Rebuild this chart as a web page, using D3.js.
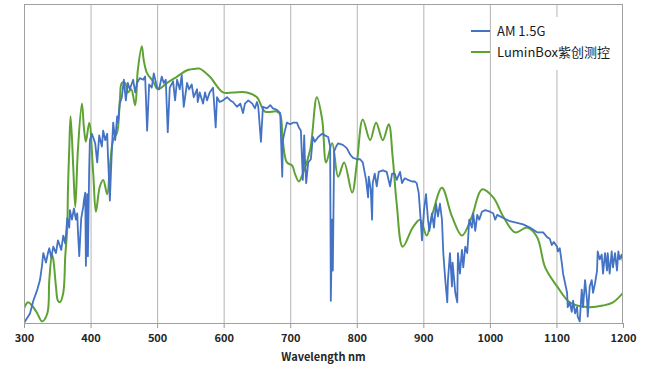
<!DOCTYPE html>
<html>
<head>
<meta charset="utf-8">
<script src="https://cdn.jsdelivr.net/npm/d3@7"></script>
<style>
  body { margin: 0; background: #fff; }
  svg text { font-family: "Noto Sans CJK SC", "Noto Sans", sans-serif; }
</style>
</head>
<body>
<svg width="649" height="375"></svg>
<script>
// wavelength (nm) and spectral irradiance
var am15Wave = [300,309,314,320,324,327,329,333,336,338,341,344,348,351,356,359,362,365,368,369,372,375,378,380,381,383,386,389,390,392,393,395,396,398,399,402,407,410,413,417,419,422,425,426,429,432,434,437,440,441,444,447,450,453,456,459,464,467,470,474,479,482,485,488,492,495,500,503,507,510,513,516,519,524,527,530,534,537,540,545,548,552,555,560,561,564,569,572,575,579,584,585,588,590,594,599,605,610,614,620,625,629,632,637,643,647,650,652,656,659,665,670,674,680,685,688,689,692,695,700,704,710,713,716,719,721,722,724,727,731,734,737,742,748,752,757,760,761,763,764,766,769,772,779,785,790,794,800,805,809,814,817,818,821,823,824,827,830,833,839,845,850,853,857,860,865,868,872,877,883,887,890,893,896,898,901,904,907,909,913,916,919,922,925,928,930,933,936,937,940,943,944,948,951,952,955,958,960,963,966,969,973,975,978,981,984,988,993,1000,1005,1008,1011,1020,1030,1041,1050,1060,1071,1080,1086,1090,1093,1096,1101,1102,1105,1108,1110,1113,1116,1117,1120,1123,1125,1128,1131,1132,1135,1138,1140,1143,1146,1147,1150,1153,1155,1158,1161,1162,1165,1168,1170,1173,1176,1177,1180,1183,1185,1188,1191,1193,1195,1198,1200];
var am15Value = [0.00,0.06,0.14,0.21,0.27,0.36,0.44,0.38,0.44,0.47,0.41,0.48,0.44,0.52,0.46,0.55,0.50,0.66,0.60,0.71,0.65,0.72,0.65,0.69,0.58,0.42,0.66,0.73,0.77,0.82,0.36,0.81,0.42,0.98,1.15,1.19,1.13,1.01,1.18,1.11,1.21,1.15,1.19,1.07,0.77,1.09,1.26,1.15,1.30,1.26,1.38,1.42,1.53,1.40,1.51,1.47,1.53,1.45,1.51,1.54,1.53,1.55,1.21,1.50,1.48,1.57,1.48,1.47,1.55,1.51,1.53,1.20,1.48,1.52,1.40,1.53,1.47,1.56,1.36,1.51,1.47,1.50,1.42,1.47,1.39,1.45,1.38,1.45,1.40,1.45,1.48,1.42,1.23,1.42,1.39,1.40,1.42,1.40,1.39,1.36,1.38,1.32,1.38,1.40,1.38,1.35,1.39,1.36,1.14,1.36,1.35,1.37,1.35,1.34,1.32,0.92,1.15,1.21,1.26,1.25,1.26,1.26,1.23,1.21,0.90,1.18,1.04,0.88,1.01,1.03,1.17,1.14,1.17,1.19,1.18,1.17,1.11,0.14,0.65,0.33,1.08,1.11,1.13,1.12,1.10,1.06,1.04,1.03,1.03,1.01,0.90,0.79,0.92,0.84,0.65,0.88,0.94,0.86,0.95,0.96,0.95,0.86,0.94,0.94,0.90,0.95,0.88,0.91,0.90,0.89,0.89,0.88,0.82,0.65,0.52,0.71,0.81,0.65,0.58,0.69,0.60,0.75,0.67,0.75,0.65,0.44,0.27,0.13,0.27,0.44,0.23,0.38,0.19,0.13,0.44,0.31,0.46,0.35,0.48,0.44,0.65,0.60,0.69,0.58,0.68,0.65,0.70,0.71,0.70,0.69,0.65,0.68,0.66,0.64,0.63,0.62,0.60,0.57,0.57,0.54,0.53,0.49,0.51,0.48,0.45,0.47,0.38,0.31,0.25,0.19,0.10,0.13,0.07,0.14,0.06,0.10,0.04,0.01,0.21,0.10,0.27,0.14,0.04,0.23,0.27,0.19,0.25,0.33,0.45,0.40,0.43,0.31,0.44,0.33,0.44,0.31,0.45,0.35,0.44,0.33,0.45,0.40,0.43,0.38];

var luminWave = [300,306,312,320,327,335,338,342,344,348,351,354,359,362,365,366,368,370,374,377,381,387,390,393,398,404,408,414,419,425,429,434,440,444,447,452,456,461,467,471,477,480,485,494,501,515,530,545,560,564,579,599,614,635,650,662,680,685,689,695,703,707,713,719,730,740,748,754,763,772,781,793,800,809,820,829,839,848,854,860,869,884,895,905,914,928,943,958,973,988,1005,1020,1038,1056,1071,1083,1101,1120,1146,1170,1185,1200];
var luminValue = [0.09,0.13,0.11,0.06,0.01,0.06,0.27,0.43,0.40,0.23,0.14,0.13,0.19,0.42,0.60,0.83,1.10,1.30,0.98,0.73,1.09,1.38,1.23,1.14,1.26,0.94,0.70,0.86,0.90,0.81,0.98,1.15,1.20,1.40,1.51,1.51,1.45,1.47,1.37,1.59,1.74,1.65,1.57,1.52,1.47,1.51,1.55,1.59,1.60,1.60,1.55,1.45,1.45,1.45,1.42,1.33,1.33,1.31,1.14,1.01,0.99,0.94,0.89,0.94,1.09,1.42,1.28,1.01,1.13,0.92,1.01,0.82,1.00,1.28,1.15,1.26,1.15,1.25,1.04,0.75,0.48,0.60,0.65,0.55,0.69,0.85,0.67,0.55,0.67,0.84,0.79,0.67,0.57,0.60,0.54,0.35,0.23,0.13,0.10,0.11,0.13,0.19];

var xTicks = [300,400,500,600,700,800,900,1000,1100,1200];
var seriesNames = ["AM 1.5G", "LuminBox紫创测控"];
var seriesColors = ["#4472c4", "#5fa234"];

var svg = d3.select("svg");
var plotLeft = 24, plotRight = 623, plotTop = 5, plotBottom = 323;

var x = d3.scaleLinear().domain([300, 1200]).range([plotLeft, plotRight]);
var y = d3.scaleLinear().domain([0, 2]).range([plotBottom, plotTop]);

// grid
svg.append("g")
  .attr("transform", "translate(0," + plotBottom + ")")
  .call(d3.axisBottom(x).tickValues(xTicks.slice(1, -1)).tickSize(-(plotBottom - plotTop)).tickFormat(""))
  .call(function (g) {
    g.select(".domain").remove();
    g.selectAll("line").attr("stroke", "#b4b4b4");
  });

// ticks + labels
svg.append("g")
  .attr("transform", "translate(0," + plotBottom + ")")
  .call(d3.axisBottom(x).tickValues(xTicks).tickSize(5).tickPadding(6).tickFormat(d3.format("d")))
  .call(function (g) {
    g.select(".domain").remove();
    g.selectAll("line").attr("stroke", "#999");
    g.selectAll("text")
      .attr("fill", "#262626")
      .style("font-size", "11px")
      .style("font-weight", "bold")
      .style("font-family", "'Noto Sans CJK SC', 'Noto Sans', sans-serif");
  });

svg.append("text")
  .attr("x", (plotLeft + plotRight) / 2)
  .attr("y", 361)
  .attr("text-anchor", "middle")
  .attr("fill", "#262626")
  .style("font-size", "11px")
  .style("font-weight", "bold")
  .text("Wavelength nm");

svg.append("clipPath").attr("id", "plot")
  .append("rect").attr("x", plotLeft).attr("y", plotTop).attr("width", plotRight - plotLeft).attr("height", plotBottom - plotTop + 2);

var blueData = am15Wave.map(function (w, i) { return [w, am15Value[i]]; });
var greenData = luminWave.map(function (w, i) { return [w, luminValue[i]]; });

var line = d3.line()
  .x(function (d) { return x(d[0]); })
  .y(function (d) { return y(d[1]); });

svg.append("path")
  .datum(greenData)
  .attr("clip-path", "url(#plot)")
  .attr("fill", "none")
  .attr("stroke", seriesColors[1])
  .attr("stroke-width", 2)
  .attr("d", line.curve(d3.curveCatmullRom.alpha(0.5)));

svg.append("path")
  .datum(blueData)
  .attr("clip-path", "url(#plot)")
  .attr("fill", "none")
  .attr("stroke", seriesColors[0])
  .attr("stroke-width", 1.8)
  .attr("stroke-linejoin", "round")
  .attr("d", line.curve(d3.curveLinear));

// frame
svg.append("rect")
  .attr("x", plotLeft + 0.5).attr("y", plotTop - 0.5)
  .attr("width", plotRight - plotLeft - 1).attr("height", plotBottom - plotTop + 1)
  .attr("fill", "none")
  .attr("stroke", "#a0a0a0");

// legend
svg.append("rect")
  .attr("x", 495).attr("y", 17).attr("width", 122).attr("height", 53)
  .attr("fill", "#fff");

var legend = svg.append("g")
  .selectAll("g")
  .data(seriesNames)
  .enter()
  .append("g")
  .attr("transform", function (d, i) { return "translate(471," + (31 + i * 21) + ")"; });

legend.append("line")
  .attr("x1", 0).attr("x2", 19)
  .attr("stroke", function (d, i) { return seriesColors[i]; })
  .attr("stroke-width", 2);

legend.append("text")
  .attr("x", 26)
  .attr("dy", "0.35em")
  .attr("fill", "#1a1a1a")
  .style("font-size", "13px")
  .text(function (d) { return d; });
</script>
</body>
</html>
